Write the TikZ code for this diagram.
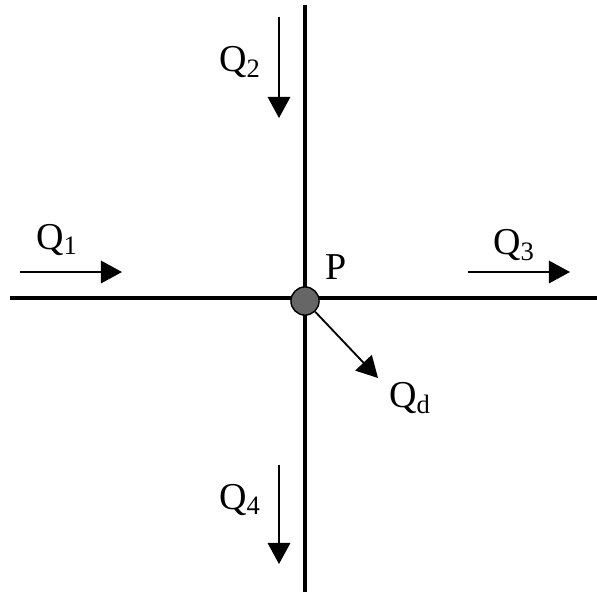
\documentclass[tikz,border=0pt]{standalone}
\usepackage{fontspec}
\setmainfont{Liberation Serif}
\usetikzlibrary{arrows.meta}
\begin{document}
\begin{tikzpicture}[x=0.025cm, y=-0.025cm,
    axis/.style={line width=2.4pt},
    flow/.style={line width=1.3pt, -{Triangle[length=15pt, width=16pt]}},
    lbl/.style={font=\fontsize{27}{30}\selectfont, inner sep=0pt}]
        \useasboundingbox (0,0) rectangle (597,594);
        \coordinate (top) at (305,5);
        \coordinate (bot) at (305,592);
        \coordinate (left) at (10,298);
        \coordinate (right) at (597,298);
        \coordinate (a1) at (20,272);
        \coordinate (b1) at (122,272);
        \coordinate (a2) at (279,17);
        \coordinate (b2) at (279,118);
        \coordinate (a3) at (468,272);
        \coordinate (b3) at (570,272);
        \coordinate (a4) at (279,465);
        \coordinate (b4) at (279,564);
        \coordinate (bd) at (378,378);
        \draw[axis] (top)--(bot);
        \draw[axis] (left)--(right);
        \node[circle, draw, line width=1pt, fill=gray!80!black, minimum size=20pt, inner sep=0pt] (P) at (305,301) {};
        \draw[flow] (a1)--(b1);
        \draw[flow] (a2)--(b2);
        \draw[flow] (a3)--(b3);
        \draw[flow] (a4)--(b4);
        \draw[flow] (P)--(bd);
        % labels
        \node[lbl] (q1) at (57,240) {Q\textsubscript{1}};
        \node[lbl] (q2) at (240,62) {Q\textsubscript{2}};
        \node[lbl] (q3) at (514,245) {Q\textsubscript{3}};
        \node[lbl] (q4) at (240,500) {Q\textsubscript{4}};
        \node[lbl] (qd) at (410,398) {Q\textsubscript{d}};
        \node[lbl] (p) at (336,267) {P};
    \end{tikzpicture}
\end{document}
